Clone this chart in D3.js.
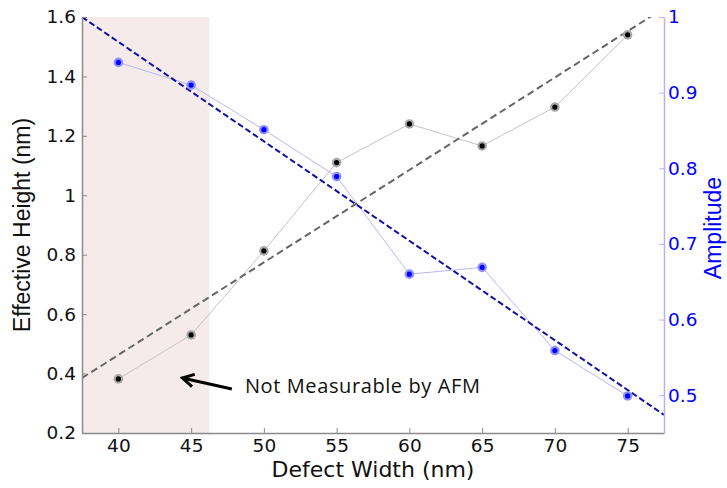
<!DOCTYPE html>
<html>
<head>
<meta charset="utf-8">
<script src="https://cdn.jsdelivr.net/npm/d3@7"></script>
<style>
  body { margin: 0; background: #fff; }
  svg { display: block; }
  .tick text { font-family: "DejaVu Sans", sans-serif; font-size: 18.5px; }
</style>
</head>
<body>
<svg width="727" height="488"></svg>
<script>
// data
const widths = [40, 45, 50, 55, 60, 65, 70, 75];
const heights = [0.382, 0.530, 0.813, 1.110, 1.240, 1.166, 1.297, 1.540];
const amplitudes = [0.940, 0.910, 0.851, 0.789, 0.660, 0.669, 0.559, 0.499];
// fitted lines (end points)
const heightFit = [[37.5, 0.385], [77.5, 1.630]];
const amplitudeFit = [[37.5, 1.0], [77.5, 0.474]];
const shadedRange = [37.5, 46.25];
const xTicks = [40, 45, 50, 55, 60, 65, 70, 75];
const leftTicks = [0.2, 0.4, 0.6, 0.8, 1, 1.2, 1.4, 1.6];
const rightTicks = [0.5, 0.6, 0.7, 0.8, 0.9, 1];
// annotation: arrow tip, arrow tail, label (x in nm, y on left axis)
const arrowTip = [44.4, 0.385];
const arrowTail = [47.8, 0.348];
const noteAt = [48.7, 0.333];
const noteText = 'Not Measurable by AFM';

const svg = d3.select('svg');
const margin = {top: 17, right: 63, bottom: 55, left: 82};
const width = 727 - margin.left - margin.right;
const height = 488 - margin.top - margin.bottom;

const chart = svg.append('g')
  .attr('transform', `translate(${margin.left}, ${margin.top})`);

const xScale = d3.scaleLinear().domain([37.5, 77.5]).range([0, width]);
const yLeft = d3.scaleLinear().domain([0.2, 1.6]).range([height, 0]);
const yRight = d3.scaleLinear().domain([0.45, 1]).range([height, 0]);

chart.append('clipPath').attr('id', 'plotClip')
  .append('rect').attr('width', width).attr('height', height);

// shaded "not measurable" band
chart.append('rect')
  .attr('x', xScale(shadedRange[0]))
  .attr('y', 0)
  .attr('width', xScale(shadedRange[1]) - xScale(shadedRange[0]))
  .attr('height', height)
  .attr('fill', '#f5ebeb');

const heightPts = widths.map((w, i) => [w, heights[i]]);
const ampPts = widths.map((w, i) => [w, amplitudes[i]]);

const lineLeft = d3.line().x(d => xScale(d[0])).y(d => yLeft(d[1]));
const lineRight = d3.line().x(d => xScale(d[0])).y(d => yRight(d[1]));

// thin connecting lines
chart.append('path').datum(heightPts)
  .attr('d', lineLeft).attr('fill', 'none')
  .attr('stroke', '#c4c4c4').attr('stroke-width', 1);
chart.append('path').datum(ampPts)
  .attr('d', lineRight).attr('fill', 'none')
  .attr('stroke', '#b8b8f8').attr('stroke-width', 1);

// dashed fits
chart.append('path').datum(heightFit)
  .attr('d', lineLeft).attr('fill', 'none')
  .attr('clip-path', 'url(#plotClip)')
  .attr('stroke', '#666').attr('stroke-width', 2)
  .attr('stroke-dasharray', '7,4');
chart.append('path').datum(amplitudeFit)
  .attr('d', lineRight).attr('fill', 'none')
  .attr('clip-path', 'url(#plotClip)')
  .attr('stroke', '#1010a8').attr('stroke-width', 2)
  .attr('stroke-dasharray', '6,3');

// markers
function drawPoints(pts, yScale, halo, core) {
  const g = chart.append('g');
  g.selectAll('circle.halo').data(pts).enter().append('circle')
    .attr('class', 'halo')
    .attr('cx', d => xScale(d[0])).attr('cy', d => yScale(d[1]))
    .attr('r', 4.8).attr('fill', halo);
  g.selectAll('circle.core').data(pts).enter().append('circle')
    .attr('class', 'core')
    .attr('cx', d => xScale(d[0])).attr('cy', d => yScale(d[1]))
    .attr('r', 2.6).attr('fill', core);
}
drawPoints(heightPts, yLeft, '#a8a8a8', '#000');
drawPoints(ampPts, yRight, '#9090ff', '#0000ff');

// axes, ticks pointing inward
const xAxis = chart.append('g')
  .attr('transform', `translate(0, ${height})`)
  .call(d3.axisBottom(xScale).tickValues(xTicks).tickSize(-5).tickSizeOuter(0).tickPadding(6));
const leftAxis = chart.append('g')
  .call(d3.axisLeft(yLeft).tickValues(leftTicks).tickSize(-5).tickSizeOuter(0).tickPadding(6)
    .tickFormat(d3.format('')));
const rightAxis = chart.append('g')
  .attr('transform', `translate(${width}, 0)`)
  .call(d3.axisRight(yRight).tickValues(rightTicks).tickSize(-5).tickSizeOuter(0).tickPadding(4)
    .tickFormat(d3.format('')));

[xAxis, leftAxis].forEach(a => {
  a.select('.domain').attr('stroke', '#8a8a8a').attr('stroke-width', 1.5);
  a.selectAll('.tick line').attr('stroke', '#8a8a8a');
  a.selectAll('.tick text').attr('fill', '#111');
});
rightAxis.select('.domain').attr('stroke', '#b4b4f0').attr('stroke-width', 1.5);
rightAxis.selectAll('.tick line').attr('stroke', '#b4b4f0');
rightAxis.selectAll('.tick text').attr('fill', '#0000ff');

// axis titles
svg.append('text')
  .attr('x', margin.left + width / 2)
  .attr('y', 477)
  .attr('text-anchor', 'middle')
  .style('font-family', '"DejaVu Sans", sans-serif')
  .style('font-size', '22px')
  .attr('fill', '#111')
  .text('Defect Width (nm)');

svg.append('text')
  .attr('transform', `translate(30, ${margin.top + height / 2}) rotate(-90)`)
  .attr('text-anchor', 'middle')
  .style('font-family', '"Liberation Sans", Arial, sans-serif')
  .style('font-size', '23px')
  .attr('fill', '#111')
  .text('Effective Height (nm)');

svg.append('text')
  .attr('transform', `translate(721, ${margin.top + height / 2 + 3}) rotate(-90)`)
  .attr('text-anchor', 'middle')
  .style('font-family', '"Liberation Sans", Arial, sans-serif')
  .style('font-size', '23px')
  .attr('fill', '#0000ff')
  .text('Amplitude');

// annotation arrow + text
svg.append('defs').append('marker')
  .attr('id', 'head')
  .attr('viewBox', '0 0 12 12')
  .attr('refX', 10).attr('refY', 6)
  .attr('markerUnits', 'userSpaceOnUse')
  .attr('markerWidth', 15).attr('markerHeight', 15)
  .attr('orient', 'auto')
  .append('path')
  .attr('d', 'M1,1 L10,6 L1,11')
  .attr('fill', 'none').attr('stroke', '#000').attr('stroke-width', 2.4);

chart.append('line')
  .attr('x1', xScale(arrowTail[0])).attr('y1', yLeft(arrowTail[1]))
  .attr('x2', xScale(arrowTip[0])).attr('y2', yLeft(arrowTip[1]))
  .attr('stroke', '#000').attr('stroke-width', 3)
  .attr('marker-end', 'url(#head)');

chart.append('text')
  .attr('x', xScale(noteAt[0])).attr('y', yLeft(noteAt[1]))
  .style('font-family', '"Open Sans", sans-serif')
  .style('font-size', '20px')
  .style('letter-spacing', '0.6px')
  .attr('fill', '#111')
  .text(noteText);
</script>
</body>
</html>
